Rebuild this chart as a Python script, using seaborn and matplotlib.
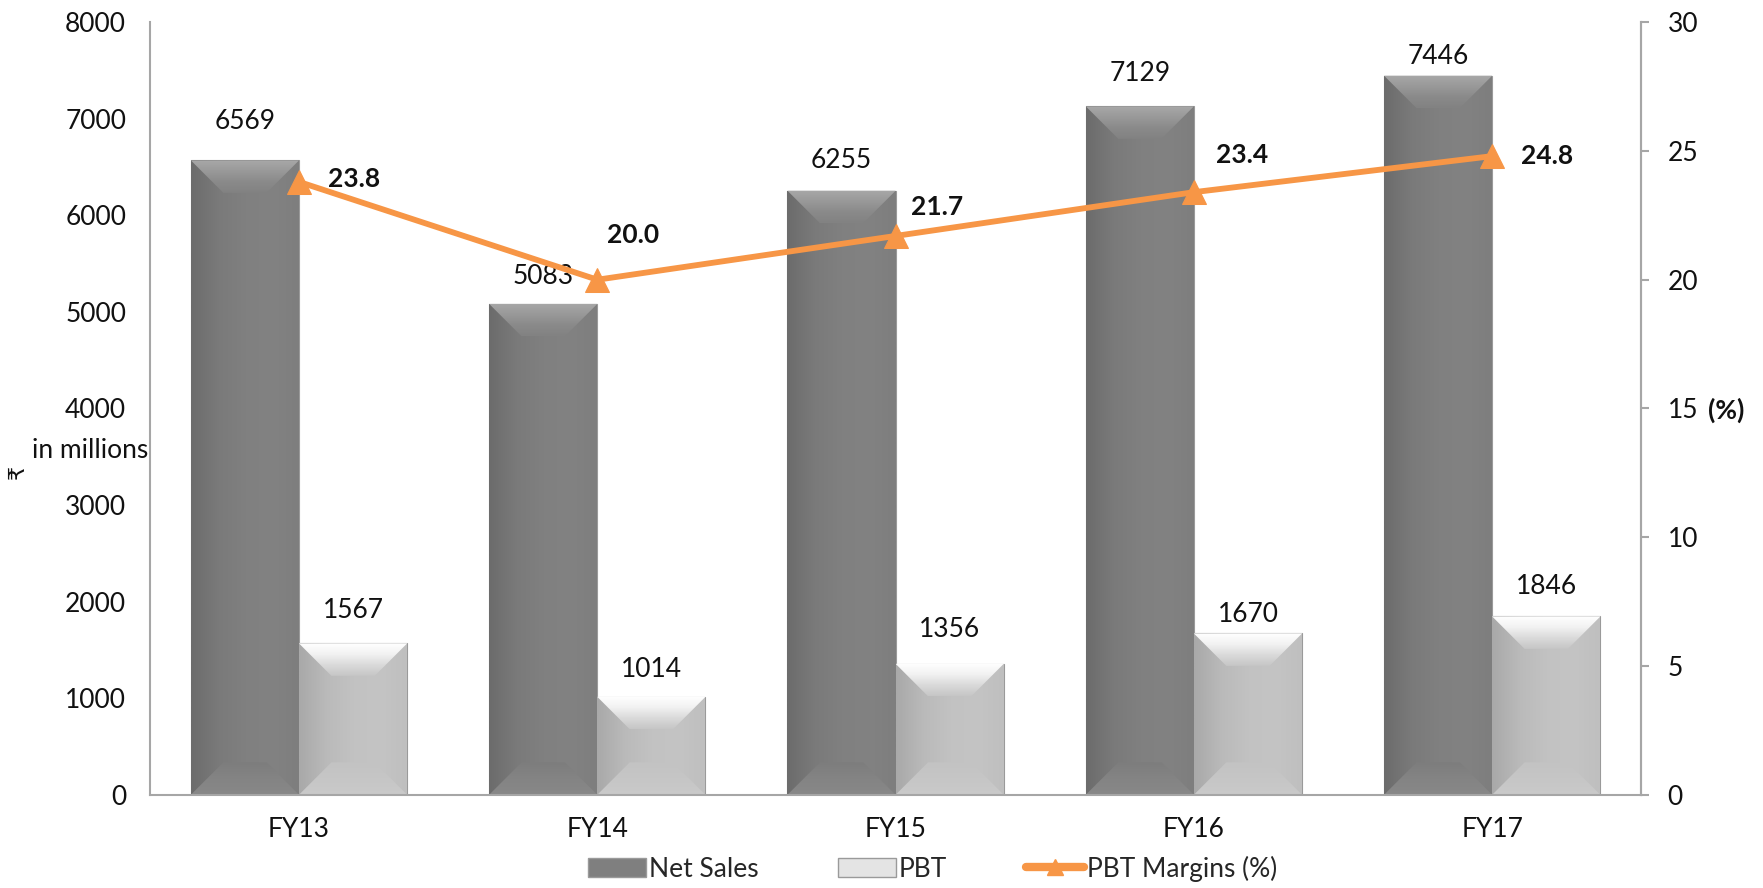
import numpy as np
import pandas as pd
import matplotlib
matplotlib.use("Agg")
import matplotlib.pyplot as plt
import seaborn as sns
from matplotlib.patches import Polygon, Rectangle
from matplotlib.lines import Line2D
from matplotlib.colors import to_rgb

years = ["FY13", "FY14", "FY15", "FY16", "FY17"]
net_sales = [6569, 5083, 6255, 7129, 7446]
pbt = [1567, 1014, 1356, 1670, 1846]
pbt_margin = [23.8, 20.0, 21.7, 23.4, 24.8]

# label offsets (points) - styling only
margin_label_offsets = [(21, 2), (7, 32), (11, 21), (16, 27), (21, 0)]
ns_label_offsets = [28, 20, 22, 23.5, 14]
pbt_label_offsets = [23.5, 19.5, 25, 14, 21.6]

sns.set_theme(style="white")
plt.rcParams['font.family'] = ['Lato', 'DejaVu Sans']
FS = 19

df = pd.DataFrame({
    "Year": years * 2,
    "Value": net_sales + pbt,
    "Series": ["Net Sales"] * len(years) + ["PBT"] * len(years),
})

dark = "#7f7f7f"
light = "#bfbfbf"
orange = "#F79646"

fig = plt.figure(figsize=(17.63, 8.88), dpi=100)
ax = fig.add_axes([0.085, 0.105, 0.846, 0.87])
sns.barplot(data=df, x="Year", y="Value", hue="Series", palette=[dark, light],
            width=0.725, dodge=True, ax=ax, legend=False, saturation=1,
            edgecolor="#9a9a9a", linewidth=0.8)
ax.set_ylim(0, 8000)
ax.set_xlim(-0.5, 4.5)
ax.set_yticks(range(0, 8001, 1000))
ax.set_xlabel("")
ax.set_ylabel("")
ax.tick_params(axis="both", labelsize=FS, colors="#111111", length=0)
ax.tick_params(axis="y", pad=17)
ax.tick_params(axis="x", pad=16)
ax.spines["top"].set_visible(False)
for s in ["left", "bottom", "right"]:
    ax.spines[s].set_color("#a6a6a6")
    ax.spines[s].set_linewidth(1.5)

fig.canvas.draw()
inv = ax.transData.inverted()


def grad_fill(poly_pts, extent, colors, vertical, zorder):
    """Fill polygon with a linear gradient through the given colours."""
    n = 64
    cols = np.array([to_rgb(c) for c in colors])
    t = np.linspace(0, 1, n)
    pos = np.linspace(0, 1, len(cols))
    arr = np.stack([np.interp(t, pos, cols[:, k]) for k in range(3)], axis=-1)
    if vertical:
        img = arr[:, None, :]  # top -> bottom
    else:
        img = arr[None, :, :]  # left -> right
    poly = Polygon(poly_pts, closed=True, facecolor="none", edgecolor="none", transform=ax.transData)
    ax.add_patch(poly)
    im = ax.imshow(img, extent=extent, aspect="auto", interpolation="bilinear",
                   zorder=zorder, origin="upper")
    im.set_clip_path(poly)


for i, p in enumerate(list(ax.patches)):
    x0, y0 = p.get_x(), p.get_y()
    w, h = p.get_width(), p.get_height()
    if h <= 0:
        continue
    is_dark = i < len(years)
    px0, py0 = ax.transData.transform((x0, y0))
    px1, py1 = ax.transData.transform((x0 + w, y0 + h))
    d = min(0.30 * (px1 - px0), 0.45 * (py1 - py0))

    def dp(x, y):
        return tuple(inv.transform((x, y)))

    ext = (x0, x0 + w, y0, y0 + h)
    z = p.get_zorder() + 0.1
    full = [dp(px0, py0), dp(px1, py0), dp(px1, py1), dp(px0, py1)]
    if is_dark:
        grad_fill(full, ext, ["#6c6c6c", "#7a7a7a", "#808080", "#828282", "#7e7e7e"], False, z)
    else:
        grad_fill(full, ext, ["#a9a9a9", "#bababa", "#c2c2c2", "#c4c4c4", "#bfbfbf"], False, z)
    # top bevel
    top = [dp(px0, py1), dp(px1, py1), dp(px1 - d, py1 - d), dp(px0 + d, py1 - d)]
    ty0 = inv.transform((px0, py1 - d))[1]
    text_ = (x0, x0 + w, ty0, y0 + h)
    if is_dark:
        grad_fill(top, text_, ["#a8a8a8", "#999999", "#8a8a8a", "#828282"], True, z + 0.05)
    else:
        grad_fill(top, text_, ["#ffffff", "#f2f2f2", "#dadada", "#c6c6c6"], True, z + 0.05)
    # bottom bevel
    bot = [dp(px0, py0), dp(px1, py0), dp(px1 - d, py0 + d), dp(px0 + d, py0 + d)]
    by1 = inv.transform((px0, py0 + d))[1]
    bext = (x0, x0 + w, y0, by1)
    if is_dark:
        grad_fill(bot, bext, ["#7d7d7d", "#848484", "#888888"], True, z + 0.05)
    else:
        grad_fill(bot, bext, ["#c3c3c3", "#c6c6c6", "#cacaca"], True, z + 0.05)

ax.set_xlim(-0.5, 4.5)
ax.set_ylim(0, 8000)

# value labels on bars
ns_bars = ax.patches[:len(years)]
pbt_bars = ax.patches[len(years):2 * len(years)]
for bar, v, off in zip(ns_bars, net_sales, ns_label_offsets):
    ax.annotate(str(v), (bar.get_x() + bar.get_width() / 2, bar.get_height()),
                xytext=(0, off), textcoords="offset points", ha="center", va="center",
                fontsize=FS, color="#111111", zorder=10)
for bar, v, off in zip(pbt_bars, pbt, pbt_label_offsets):
    ax.annotate(str(v), (bar.get_x() + bar.get_width() / 2, bar.get_height()),
                xytext=(0, off), textcoords="offset points", ha="center", va="center",
                fontsize=FS, color="#111111", zorder=10)

ax2 = ax.twinx()
sns.lineplot(x=np.arange(len(years)), y=pbt_margin, ax=ax2, color=orange, lw=4.2,
             marker="^", markersize=17, markeredgecolor=orange, markerfacecolor=orange, legend=False)
ax2.set_ylim(0, 30)
ax2.set_yticks(range(0, 31, 5))
ax2.set_xlim(-0.5, 4.5)
ax2.set_ylabel("")
ax2.tick_params(axis="y", labelsize=FS, colors="#111111", length=6, width=1.5, pad=13)
ax2.tick_params(axis="y", color="#a6a6a6")
for s in ["top", "left", "bottom"]:
    ax2.spines[s].set_visible(False)
ax2.spines["right"].set_color("#a6a6a6")
ax2.spines["right"].set_linewidth(1.5)
for i, (v, off) in enumerate(zip(pbt_margin, margin_label_offsets)):
    ax2.annotate(f"{v:.1f}", (i, v), xytext=off, textcoords="offset points",
                 ha="left", va="center", fontsize=FS, fontweight="bold", color="#111111")

# axis titles
fig.text(0.051, 0.493, "in millions", fontsize=FS, ha="center", va="center", color="#111111")
fig.text(0.010, 0.468, "₹", fontsize=16, rotation=90, ha="center", va="center",
         color="#111111", family=["DejaVu Sans"])
fig.text(0.979, 0.538, "(%)", fontsize=FS, fontweight="bold", ha="center", va="center", color="#111111")

# legend
handles = [
    Rectangle((0, 0), 1, 1, facecolor=dark, edgecolor="#9a9a9a"),
    Rectangle((0, 0), 1, 1, facecolor="#e4e4e4", edgecolor="#9a9a9a"),
    Line2D([0], [0], color=orange, lw=6, marker="^", markersize=12, markerfacecolor=orange),
]
fig.legend(handles, ["Net Sales", "PBT", "PBT Margins (%)"], loc="center",
           bbox_to_anchor=(0.529, 0.022), ncol=3, frameon=False, fontsize=FS,
           handlelength=2.2, handletextpad=0.1, columnspacing=3.0)

fig.savefig("out.png", dpi=100)
